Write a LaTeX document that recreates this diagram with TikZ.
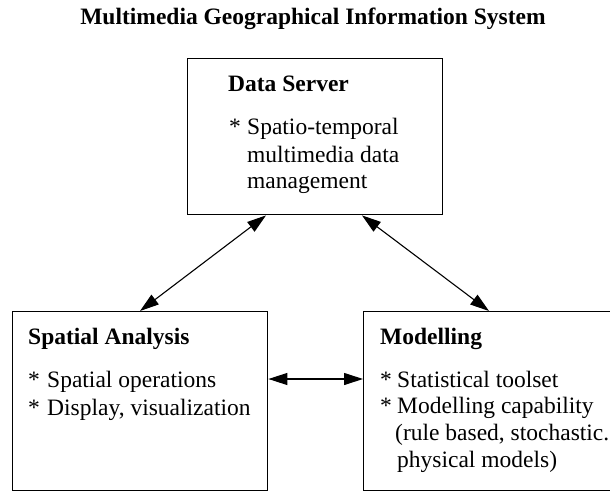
\documentclass[tikz,border=0pt]{standalone}
\usepackage{fontspec}
\setmainfont{Liberation Serif}
\usetikzlibrary{arrows.meta}

\tikzset{
  box/.style={draw=black, line width=1.4pt, fill=white, rectangle,
              anchor=north west, inner sep=0pt},
  line/.style={anchor=base west, inner sep=0pt,
               font=\fontsize{23.5}{27}\selectfont},
  head/.style={line, font=\fontsize{23.5}{27}\selectfont\bfseries},
  link/.style={line width=1.1pt, {Triangle[length=19pt,width=12pt]}-{Triangle[length=19pt,width=12pt]}}
}

\begin{document}
\begin{tikzpicture}[x=1pt, y=-1pt]
  \useasboundingbox (0,0) rectangle (610,492);
  \fill[white] (0,0) rectangle (610,492);

  % title
  \node[anchor=base, inner sep=0pt, font=\fontsize{23.5}{27}\selectfont\bfseries]
    (title) at (313,25) {Multimedia Geographical Information System};

  % the three component boxes
  \node[box, minimum width=255pt, minimum height=156pt] (ds) at (187,58) {};
  \node[box, minimum width=255pt, minimum height=179pt] (sa) at (12,311) {};
  \node[box, minimum width=257pt, minimum height=179pt] (mo) at (363,311) {};

  % Data Server text
  \node[head] (dsh) at (228,92) {Data Server};
  \node[line] (ds1s) at (229,135) {*};
  \node[line] (ds1) at (247,135) {Spatio-temporal};
  \node[line] (ds2) at (247,162) {multimedia data};
  \node[line] (ds3) at (247,188) {management};

  % Spatial Analysis text
  \node[head] (sah) at (28,344) {Spatial Analysis};
  \node[line] (sa1s) at (28,387) {*};
  \node[line] (sa1) at (47,387) {Spatial operations};
  \node[line] (sa2s) at (28,415) {*};
  \node[line] (sa2) at (47,415) {Display, visualization};

  % Modelling text
  \node[head] (moh) at (380,344) {Modelling};
  \node[line] (mo1s) at (380,387) {*};
  \node[line] (mo1) at (397,387) {Statistical toolset};
  \node[line] (mo2s) at (380,413) {*};
  \node[line] (mo2) at (397,413) {Modelling capability};
  \node[line] (mo3) at (395,440) {(rule based, stochastic.};
  \node[line] (mo4) at (397,467) {physical models)};

  % two-way links between the components
  \draw[link] ([xshift=79pt]ds.south west) -- ([xshift=128pt]sa.north west);
  \draw[link] ([xshift=175pt]ds.south west) -- ([xshift=126pt]mo.north west);
  \draw[link] ([yshift=-68pt]sa.north east) -- ([yshift=-68pt]mo.north west);
\end{tikzpicture}
\end{document}
